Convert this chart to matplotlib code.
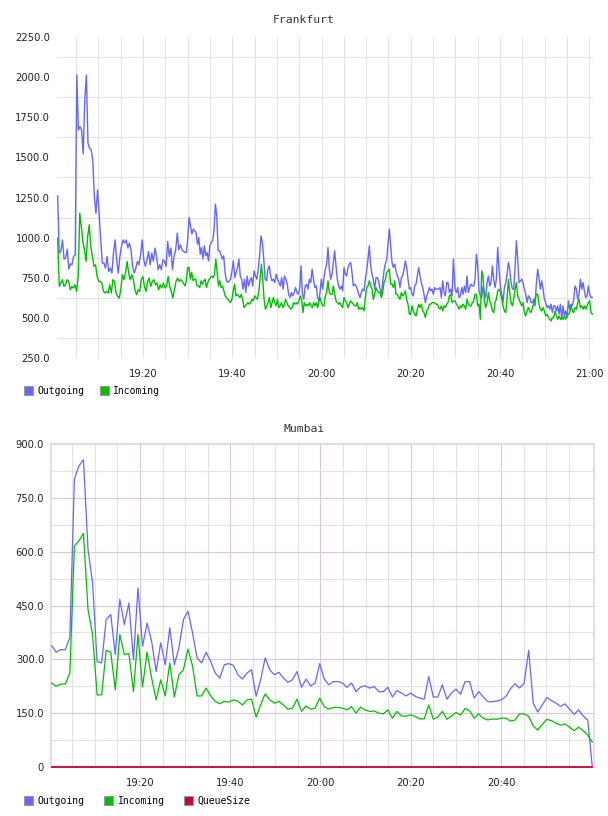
import matplotlib
matplotlib.use("Agg")

import matplotlib.pyplot as plt
import numpy as np
from matplotlib.patches import Patch
from matplotlib.ticker import FixedLocator, FuncFormatter

# ---- Frankfurt: in four stretches (minutes after 19:00)
fra_out = [
    1260, 904, 914, 986, 866, 872, 928, 804, 837, 831,
    883, 893, 2014, 1671, 1692, 1671, 1522, 1858, 2014, 1588,
    1557, 1547, 1484, 1256, 1152, 1298, 1152, 986, 841, 841,
    810, 883, 789, 810, 779, 904, 986, 862, 779, 883,
    945, 986, 966, 986, 935, 966, 924, 821, 779, 810,
    852, 831, 893, 986, 862, 821, 862, 914, 831, 904,
    852, 935, 883, 800, 831, 800, 862, 852, 821, 976,
    883, 935, 800, 883, 924, 1028, 924, 955, 924, 914,
    # 19:29 - 19:59
    907, 907, 1001, 1126, 1074, 1022, 1053, 1043, 1032, 959,
    1001, 897, 939, 866, 949, 887, 907, 855, 949, 970,
    980, 1043, 1209, 1136, 918, 918, 897, 866, 887, 783,
    731, 720, 731, 741, 793, 855, 751, 783, 814, 866,
    761, 741, 679, 741, 658, 761, 699, 731, 751, 699,
    793, 761, 741, 803, 887, 1011, 970, 866, 741, 731,
    803, 824, 761, 731, 741, 720, 772, 741, 720, 699,
    751, 679, 761, 741, 710, 647, 627, 658, 637, 658,
    689, 658, 647, 679, 824, 647, 616, 699, 710, 679,
    741, 720, 803, 741, 689, 699, 627, 606,
    # 19:59 - 20:29
    658, 741, 679, 751, 803, 835, 939, 803, 741, 772,
    845, 918, 824, 741, 699, 679, 699, 668, 814, 772,
    761, 814, 835, 845, 783, 699, 710, 699, 679, 647,
    627, 658, 679, 668, 741, 793, 866, 949, 824, 772,
    741, 679, 751, 751, 731, 679, 647, 720, 793, 835,
    866, 959, 1053, 949, 845, 814, 835, 793, 761, 741,
    689, 751, 761, 803, 855, 814, 741, 679, 689, 647,
    637, 699, 710, 761, 814, 761, 720, 689, 647, 595,
    637, 658, 689, 668, 679, 647, 689, 679, 679, 679,
    689, 627, 731, 658, 637, 720, 720, 658, 679, 637,
    866,
    # 20:30 - 21:00
    679, 658, 689, 627, 637, 689, 647, 699, 658, 761,
    658, 689, 710, 699, 699, 741, 897, 824, 668, 637,
    627, 699, 658, 627, 720, 761, 699, 720, 824, 741,
    689, 741, 939, 803, 699, 647, 595, 689, 720, 772,
    845, 803, 720, 679, 679, 814, 980, 866, 720, 731,
    741, 720, 679, 647, 595, 637, 627, 595, 595, 616,
    575, 720, 803, 741, 679, 731, 679, 616, 595, 564,
    575, 554, 585, 533, 575, 575, 543, 575, 523, 585,
    491, 575, 512, 543, 502, 606, 554, 585, 575, 616,
    699, 679, 616, 647, 741, 679, 720, 668, 627, 637,
    699, 647, 627, 627,
]
fra_out_seg = [80, 98, 101, 104]
fra_out_span = [(0.88, 29.11), (29.41, 59.44), (59.66, 89.54), (89.92, 120.69)]

fra_in = [
    997, 696, 717, 738, 696, 706, 738, 727, 675, 696,
    686, 706, 665, 758, 1152, 1069, 976, 924, 852, 1007,
    1080, 945, 883, 821, 831, 758, 727, 727, 717, 665,
    655, 665, 655, 706, 655, 738, 727, 655, 634, 623,
    675, 769, 738, 779, 852, 779, 738, 769, 738, 675,
    644, 675, 665, 738, 758, 696, 665, 727, 748, 696,
    727, 738, 706, 717, 675, 706, 686, 717, 686, 696,
    758, 696, 665, 623, 675, 727, 748, 727, 738, 727,
    # 19:29 - 19:59
    699, 731, 814, 814, 741, 783, 731, 741, 741, 699,
    699, 689, 731, 710, 731, 741, 689, 720, 741, 751,
    761, 751, 772, 866, 783, 699, 731, 689, 699, 668,
    637, 627, 616, 606, 595, 616, 668, 710, 637, 647,
    637, 627, 647, 616, 564, 575, 585, 595, 585, 595,
    616, 606, 637, 627, 616, 658, 741, 835, 741, 616,
    554, 575, 595, 627, 564, 595, 627, 595, 575, 616,
    564, 575, 595, 564, 575, 616, 595, 575, 564, 554,
    564, 595, 585, 595, 585, 606, 637, 616, 533, 595,
    575, 585, 575, 595, 575, 564, 595, 575, 595, 564,
    606,
    # 19:59 - 20:29
    627, 595, 575, 575, 637, 658, 731, 658, 647, 647,
    699, 647, 606, 595, 585, 595, 575, 564, 627, 606,
    595, 564, 585, 606, 595, 585, 575, 575, 595, 554,
    564, 554, 564, 543, 627, 689, 699, 731, 699, 679,
    616, 647, 689, 668, 658, 658, 627, 658, 720, 741,
    783, 793, 803, 710, 710, 689, 731, 647, 647, 627,
    616, 658, 637, 647, 668, 616, 585, 523, 523, 575,
    543, 523, 512, 554, 585, 564, 585, 543, 533, 502,
    543, 554, 585, 585, 595, 595, 595, 585, 585, 564,
    554, 575, 543, 575, 564, 585, 595, 637, 647, 595,
    606,
    # 20:30 - 21:00
    606, 585, 575, 554, 575, 564, 585, 575, 554, 616,
    585, 575, 575, 595, 606, 647, 647, 575, 585, 491,
    793, 761, 606, 564, 595, 658, 606, 585, 543, 533,
    595, 616, 668, 679, 658, 616, 575, 543, 533, 616,
    741, 658, 595, 575, 616, 679, 720, 637, 616, 595,
    575, 595, 533, 512, 543, 564, 543, 533, 564, 585,
    616, 647, 647, 585, 554, 543, 564, 543, 512, 523,
    502, 491, 481, 502, 502, 543, 512, 491, 512, 491,
    502, 491, 512, 491, 512, 523, 533, 575, 543, 533,
    564, 554, 595, 616, 564, 575, 554, 575, 554, 575,
    595, 606, 533, 523,
]
fra_in_seg = [80, 101, 101, 104]
fra_in_span = [(0.88, 28.81), (29.41, 59.44), (59.66, 89.54), (89.92, 120.69)]

# ---- Mumbai: one sample a minute
mum_start, mum_end = 0.43, 120.23
mum_out = [
    338, 320, 327, 327, 360, 802, 839, 856, 606, 513,
    294, 290, 411, 425, 313, 467, 397, 457, 299, 499,
    336, 401, 350, 266, 346, 285, 388, 285, 332, 411,
    434, 374, 304, 290, 320, 294, 262, 248, 285, 288,
    283, 257, 245, 262, 271, 197, 243, 304, 271, 257,
    264, 248, 236, 243, 266, 222, 245, 226, 234, 288,
    245, 229, 238, 238, 234, 222, 234, 210, 223, 226,
    220, 224, 210, 210, 222, 195, 213, 206, 198, 206,
    197, 192, 189, 252, 195, 195, 229, 189, 206, 217,
    203, 238, 238, 192, 210, 195, 182, 182, 184, 187,
    197, 218, 232, 220, 234, 325, 178, 153, 173, 194,
    185, 178, 169, 176, 161, 147, 159, 142, 131, 0,
]
mum_in = [
    234, 225, 231, 231, 262, 616, 630, 651, 439, 369,
    201, 201, 325, 320, 215, 369, 313, 316, 210, 369,
    223, 320, 248, 187, 243, 198, 290, 195, 257, 271,
    329, 282, 198, 198, 220, 198, 183, 176, 183, 181,
    187, 183, 173, 187, 189, 139, 173, 204, 187, 178,
    183, 173, 161, 164, 189, 155, 170, 161, 164, 192,
    168, 161, 166, 166, 164, 159, 168, 150, 167, 159,
    155, 156, 150, 148, 159, 136, 155, 142, 142, 145,
    141, 134, 134, 173, 133, 139, 155, 133, 142, 152,
    145, 163, 157, 136, 148, 136, 131, 134, 133, 136,
    136, 128, 131, 148, 148, 141, 114, 103, 119, 133,
    129, 122, 117, 120, 111, 101, 111, 101, 89, 69,
]
mum_queue = [0] * len(mum_out)

C_OUT = "#6666ff"
C_IN = "#00c000"
C_QUEUE = "#cc0033"
GRID = "#e3e3e3"
PINK = "#dcc6dc"
MONO = "DejaVu Sans Mono"


def seg_times(spans, counts):
    return np.concatenate([np.linspace(a, b, n) for (a, b), n in zip(spans, counts)])


def clock(m, _pos=None):
    h, mm = divmod(int(round(m)), 60)
    return f"{19 + h}:{mm:02d}"


fig = plt.figure(figsize=(6.08, 8.16), dpi=100)
W, H = 608, 816


def axes_px(x0, y0, x1, y1):
    return fig.add_axes([x0 / W, 1 - y1 / H, (x1 - x0) / W, (y1 - y0) / H])


# ---------------- Frankfurt
ax = axes_px(57, 37, 593, 358)
ax.plot(seg_times(fra_out_span, fra_out_seg), fra_out, color=C_OUT, lw=1.0, zorder=3)
ax.plot(seg_times(fra_in_span, fra_in_seg), fra_in, color=C_IN, lw=1.0, zorder=4)
ax.set_xlim(0.73, 120.83)
ax.set_ylim(250, 2250)
ax.yaxis.set_major_locator(FixedLocator(np.arange(250, 2251, 250)))
ax.yaxis.set_major_formatter(FuncFormatter(lambda v, p: f"{v:.1f}"))
ax.yaxis.set_minor_locator(FixedLocator(np.arange(375, 2250, 250)))
ax.xaxis.set_major_locator(FixedLocator([20, 40, 60, 80, 100, 120]))
ax.xaxis.set_major_formatter(FuncFormatter(clock))
ax.xaxis.set_minor_locator(FixedLocator(np.arange(5, 121, 5)))
ax.grid(which="minor", axis="both", color=GRID, lw=0.8)
ax.grid(which="major", axis="x", color=GRID, lw=0.8)
ax.set_axisbelow(True)
for s in ax.spines.values():
    s.set_visible(False)
ax.tick_params(which="both", length=0, labelsize=7.2, colors="#222222")
ax.tick_params(axis="y", pad=5)
ax.tick_params(axis="x", pad=8)
fig.text(0.5, 1 - 20 / H, "Frankfurt", ha="center", va="center",
         family=MONO, fontsize=8.2, color="#333333")
fig.legend(handles=[Patch(facecolor=C_OUT, edgecolor="#999999", lw=0.8),
                    Patch(facecolor=C_IN, edgecolor="#999999", lw=0.8)],
           labels=["Outgoing", "Incoming"], loc="upper left",
           bbox_to_anchor=(24 / W, 1 - 386 / H), ncol=2, frameon=False,
           borderpad=0, borderaxespad=0, handlelength=0.95, handleheight=0.95,
           handletextpad=0.45, columnspacing=1.55,
           prop={"family": MONO, "size": 7})

# ---------------- Mumbai
bx = axes_px(51, 444, 594, 767)
mum_t = np.linspace(mum_start, mum_end, len(mum_out))
bx.plot(mum_t, mum_out, color=C_OUT, lw=0.9, zorder=3)
bx.plot(mum_t, mum_in, color=C_IN, lw=0.9, zorder=4)
bx.plot(mum_t, mum_queue, color=C_QUEUE, lw=1.3, zorder=5, clip_on=False)
bx.set_xlim(0.28, 120.61)
bx.set_ylim(0, 900)
bx.yaxis.set_major_locator(FixedLocator(np.arange(0, 901, 150)))
bx.yaxis.set_major_formatter(FuncFormatter(lambda v, p: "0" if v == 0 else f"{v:.1f}"))
bx.yaxis.set_minor_locator(FixedLocator(np.arange(75, 900, 150)))
bx.xaxis.set_major_locator(FixedLocator([20, 40, 60, 80, 100]))
bx.xaxis.set_major_formatter(FuncFormatter(clock))
bx.xaxis.set_minor_locator(FixedLocator([m for m in range(5, 120, 5) if m % 20]))
bx.grid(which="minor", axis="both", color=GRID, lw=0.8)
bx.grid(which="major", axis="both", color=PINK, lw=0.8)
bx.set_axisbelow(True)
for s in bx.spines.values():
    s.set_color("#e6d2e6")
    s.set_linewidth(1.2)
bx.tick_params(which="both", length=0, labelsize=7.2, colors="#222222")
bx.tick_params(axis="y", pad=5)
bx.tick_params(axis="x", pad=8)
fig.text(0.5, 1 - 429 / H, "Mumbai", ha="center", va="center",
         family=MONO, fontsize=8.2, color="#333333")
fig.legend(handles=[Patch(facecolor=C_OUT, edgecolor="#999999", lw=0.8),
                    Patch(facecolor=C_IN, edgecolor="#999999", lw=0.8),
                    Patch(facecolor=C_QUEUE, edgecolor="#999999", lw=0.8)],
           labels=["Outgoing", "Incoming", "QueueSize"], loc="upper left",
           bbox_to_anchor=(24 / W, 1 - 796 / H), ncol=3, frameon=False,
           borderpad=0, borderaxespad=0, handlelength=0.95, handleheight=0.95,
           handletextpad=0.45, columnspacing=2.0,
           prop={"family": MONO, "size": 7})

fig.savefig("out.png", dpi=100)
